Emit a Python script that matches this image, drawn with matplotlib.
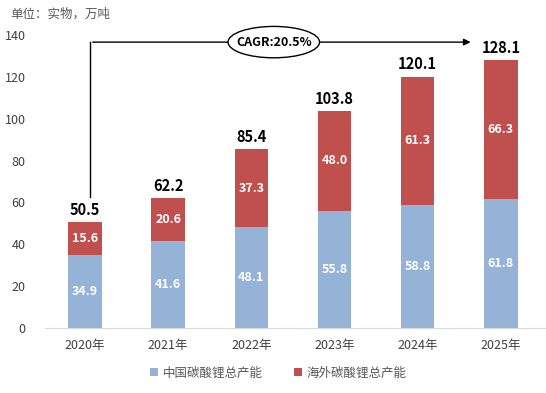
import matplotlib.pyplot as plt
from matplotlib.patches import Ellipse

plt.rcParams['font.family'] = ['Noto Sans CJK SC', 'DejaVu Sans']

years = ["2020年", "2021年", "2022年", "2023年", "2024年", "2025年"]
china = [34.9, 41.6, 48.1, 55.8, 58.8, 61.8]
overseas = [15.6, 20.6, 37.3, 48.0, 61.3, 66.3]
totals = [50.5, 62.2, 85.4, 103.8, 120.1, 128.1]

BLUE = "#95B3D7"
RED = "#C0504D"

fig = plt.figure(figsize=(5.46, 3.93), dpi=100)
ax = fig.add_axes([45 / 546, 65 / 393, 500 / 546, 293 / 393])

x = range(len(years))
ax.bar(x, china, width=0.4, color=BLUE, label="中国碳酸锂总产能")
ax.bar(x, overseas, width=0.4, bottom=china, color=RED, label="海外碳酸锂总产能")

for i in x:
    ax.text(i, china[i] / 2, f"{china[i]:.1f}", ha="center", va="center",
            color="white", fontsize=9, fontweight="bold")
    ax.text(i, china[i] + overseas[i] / 2, f"{overseas[i]:.1f}", ha="center",
            va="center", color="white", fontsize=9, fontweight="bold")
    ax.text(i, totals[i] + 2, f"{totals[i]:.1f}", ha="center", va="bottom",
            color="black", fontsize=10.5, fontweight="bold")

# CAGR arrow
ax.plot([0.06, 0.06], [62.5, 136.6], color="black", lw=1, clip_on=False)
ax.annotate("", xy=(4.67, 136.6), xytext=(0.06, 136.6), annotation_clip=False,
            arrowprops=dict(arrowstyle="-|>", color="black", lw=1, mutation_scale=10))
ax.add_patch(Ellipse((2.27, 136.6), 1.1, 15, facecolor="white",
                     edgecolor="black", lw=1, zorder=5, clip_on=False))
ax.text(2.27, 136.6, "CAGR:20.5%", ha="center", va="center", fontsize=9,
        fontweight="bold", zorder=6)

ax.set_xlim(-0.48, 5.53)
ax.set_ylim(0, 140)
ax.set_yticks(range(0, 141, 20))
ax.set_xticks(list(x))
ax.set_xticklabels(years)
ax.tick_params(axis="both", length=0, labelsize=9, colors="#404040")
ax.tick_params(axis="x", pad=8)
ax.tick_params(axis="y", pad=14)
for s in ["top", "right", "left"]:
    ax.spines[s].set_visible(False)
ax.spines["bottom"].set_color("#D9D9D9")

fig.text(10 / 546, 1 - 14 / 393, "单位：实物，万吨", fontsize=9, color="#595959", va="center")

fig.legend(loc="center", bbox_to_anchor=(0.51, 1 - 373 / 393), ncol=2, frameon=False,
           fontsize=9, handlelength=0.6, handleheight=0.6, columnspacing=2.5,
           handletextpad=0.4, labelcolor="#595959")

fig.savefig("out.png", dpi=100)
